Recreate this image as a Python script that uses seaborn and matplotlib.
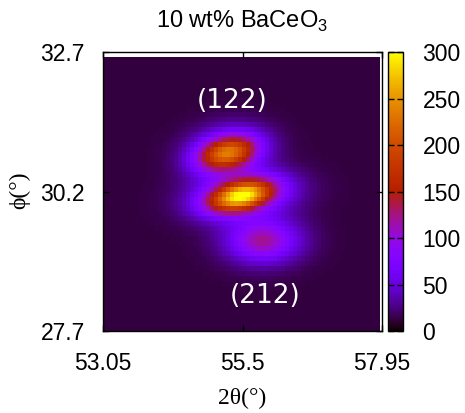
import numpy as np
import pandas as pd
import matplotlib
matplotlib.use("Agg")
import matplotlib.pyplot as plt
import seaborn as sns

# Scan window and axis labelling
two_theta_lim = [53.05, 57.95]
phi_lim = [27.7, 32.7]
x_ticks = [53.05, 55.5, 57.95]
y_ticks = [27.7, 30.2, 32.7]
x_tick_labels = ["53.05", "55.5", "57.95"]
y_tick_labels = ["27.7", "30.2", "32.7"]
cbar_ticks = [0, 50, 100, 150, 200, 250, 300]

# Measured area of the detector map (slightly inside the axis window)
map_two_theta = [53.05, 57.92]
map_phi = [27.7, 32.61]
n_two_theta, n_phi = 70, 55

# Intensity components: sharp cores plus broad diffuse parts
peak_two_theta = [55.23, 55.47, 55.85, 55.25, 55.52, 55.86]
peak_phi = [30.90, 30.12, 29.30, 30.90, 30.13, 29.32]
peak_height = [150, 210, 30, 75, 85, 80]
peak_sigma_tt = [0.36, 0.40, 0.30, 0.48, 0.62, 0.48]
peak_sigma_phi = [0.19, 0.18, 0.18, 0.32, 0.28, 0.30]
peak_tilt = [14, 14, 0, 8, 6, 0]
background = 12

# Reflection labels
label_text = ["(122)", "(212)"]
label_two_theta = [55.32, 55.89]
label_phi = [31.82, 28.33]

# Grid of cell centres
dx = (map_two_theta[1] - map_two_theta[0]) / n_two_theta
dy = (map_phi[1] - map_phi[0]) / n_phi
tt = map_two_theta[0] + (np.arange(n_two_theta) + 0.5) * dx
ph = map_phi[1] - (np.arange(n_phi) + 0.5) * dy  # rows from top to bottom
TT, PH = np.meshgrid(tt, ph)

intensity = np.full(TT.shape, float(background))
for x0, y0, a, sx, sy, t in zip(peak_two_theta, peak_phi, peak_height,
                               peak_sigma_tt, peak_sigma_phi, peak_tilt):
    c, s = np.cos(np.radians(t)), np.sin(np.radians(t))
    u = (TT - x0) * c + (PH - y0) * s
    v = -(TT - x0) * s + (PH - y0) * c
    intensity += a * np.exp(-0.5 * ((u / sx) ** 2 + (v / sy) ** 2))

df = pd.DataFrame(intensity, index=np.round(ph, 3), columns=np.round(tt, 3))

W, H = 465, 413
fig = plt.figure(figsize=(W / 100, H / 100), dpi=100)
plt.rcParams["font.family"] = ["Liberation Sans", "DejaVu Sans"]
plt.rcParams["mathtext.fontset"] = "custom"
plt.rcParams["mathtext.rm"] = "Liberation Sans"


def frac(x0, y0, x1, y1):
    return [x0 / W, 1 - y1 / H, (x1 - x0) / W, (y1 - y0) / H]


ax = fig.add_axes(frac(103, 52, 382, 331))
cax = fig.add_axes(frac(388, 52, 403, 331))

sns.heatmap(df, ax=ax, cbar_ax=cax, cmap="gnuplot", vmin=0, vmax=300,
            xticklabels=False, yticklabels=False, cbar=True,
            cbar_kws={"ticks": cbar_ticks})

# Axis window in cell-index coordinates
def x_pos(v):
    return (v - map_two_theta[0]) / dx


def y_pos(v):
    return (map_phi[1] - v) / dy


ax.set_xlim(x_pos(two_theta_lim[0]), x_pos(two_theta_lim[1]))
ax.set_ylim(y_pos(phi_lim[0]), y_pos(phi_lim[1]))
ax.set_facecolor("white")

fs = 16.5
ax.set_xticks([x_pos(v) for v in x_ticks])
ax.set_xticklabels(x_tick_labels, fontsize=fs, rotation=0)
ax.set_yticks([y_pos(v) for v in y_ticks])
ax.set_yticklabels(y_tick_labels, fontsize=fs, rotation=0)
ax.tick_params(axis="x", direction="in", length=4, width=1, color="black",
               top=True, bottom=True, pad=15)
ax.tick_params(axis="y", direction="in", length=4, width=1, color="black",
               left=True, right=True, pad=13)
for sp in ax.spines.values():
    sp.set_visible(True)
    sp.set_color("black")
    sp.set_linewidth(1)

ax.set_xlabel("")
ax.set_ylabel("")
serif = ["Liberation Serif", "DejaVu Serif"]
fig.text(242.5 / W, 1 - 398 / H, "2θ(°)", family=serif, fontsize=17,
         ha="center", va="center")
fig.text(20 / W, 1 - 190 / H, "ϕ(°)", family=serif, fontsize=17,
         ha="center", va="center", rotation=90)
fig.text(242.5 / W, 1 - 28 / H, r"10 wt% BaCeO$_{\mathrm{3}}$", fontsize=17,
         ha="center", va="baseline")

for txt, xv, yv in zip(label_text, label_two_theta, label_phi):
    ax.text(x_pos(xv), y_pos(yv), txt, color="white", fontsize=19,
            family="DejaVu Sans", ha="center", va="center")

cbar = ax.collections[0].colorbar
cbar.outline.set_visible(True)
cbar.outline.set_linewidth(1)
cbar.outline.set_edgecolor("black")
cax.tick_params(direction="in", length=4, width=1, color="black",
                left=True, right=True, labelsize=fs, pad=14)
cax.set_yticklabels([str(t) for t in cbar_ticks])

fig.savefig("out.png", dpi=100)
